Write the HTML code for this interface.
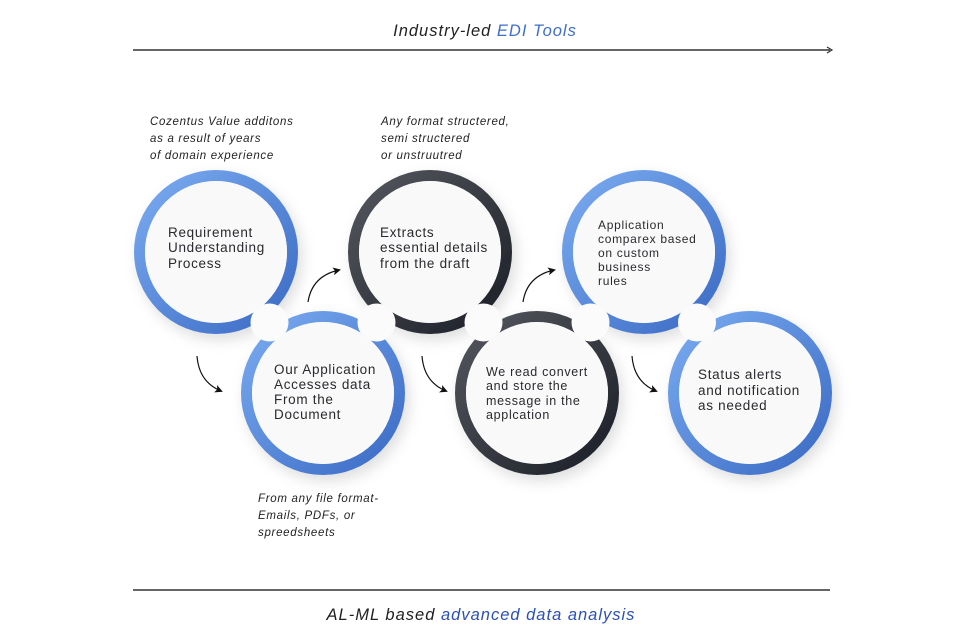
<!DOCTYPE html>
<html><head><meta charset="utf-8"><style>
html,body{margin:0;padding:0;background:#fff;width:966px;height:644px;overflow:hidden}
svg{display:block}
text{font-family:"Liberation Sans",sans-serif}
.c{font-size:13.5px;fill:#2a2a2e;letter-spacing:0.7px}
.n{font-size:11.5px;fill:#222;font-style:italic;letter-spacing:0.7px}
.t{font-size:16.5px;font-style:italic;letter-spacing:1px}
</style></head><body>
<svg width="966" height="644" viewBox="0 0 966 644">
<defs>
<linearGradient id="gb" x1="0" y1="0" x2="1" y2="1">
<stop offset="0" stop-color="#7aabf0"/><stop offset="1" stop-color="#3a6ac4"/></linearGradient>
<linearGradient id="gd" x1="0" y1="0" x2="1" y2="1">
<stop offset="0" stop-color="#55585f"/><stop offset="1" stop-color="#1b1e26"/></linearGradient>
<filter id="sh" x="-30%" y="-30%" width="160%" height="160%"><feDropShadow dx="4" dy="6" stdDeviation="7" flood-color="#000" flood-opacity="0.13"/></filter>
<marker id="ah" markerWidth="8" markerHeight="8" refX="6" refY="4" orient="auto" markerUnits="userSpaceOnUse"><path d="M0,0 L8,4 L0,8 L2,4 Z" fill="#111"/></marker>
</defs>
<text x="485" y="36" text-anchor="middle" class="t"><tspan fill="#222">Industry-led </tspan><tspan fill="#3f6fc9">EDI Tools</tspan></text>
<line x1="133" y1="50" x2="830" y2="50" stroke="#333" stroke-width="1.5"/>
<path d="M827,47 L832,50 L827,53" fill="none" stroke="#333" stroke-width="1.2"/>
<line x1="133" y1="590" x2="830" y2="590" stroke="#333" stroke-width="1.5"/>
<text x="481" y="620" text-anchor="middle" class="t"><tspan fill="#222">AL-ML based </tspan><tspan fill="#2b50b8">advanced data analysis</tspan></text>

<g filter="url(#sh)">
<circle cx="216" cy="252" r="76.5" fill="#f9f9fa" stroke="url(#gb)" stroke-width="11"/>
<circle cx="323" cy="393" r="76.5" fill="#f9f9fa" stroke="url(#gb)" stroke-width="11"/>
<circle cx="430" cy="252" r="76.5" fill="#f9f9fa" stroke="url(#gd)" stroke-width="11"/>
<circle cx="537" cy="393" r="76.5" fill="#f9f9fa" stroke="url(#gd)" stroke-width="11"/>
<circle cx="644" cy="252" r="76.5" fill="#f9f9fa" stroke="url(#gb)" stroke-width="11"/>
<circle cx="750" cy="393" r="76.5" fill="#f9f9fa" stroke="url(#gb)" stroke-width="11"/>
</g>
<g fill="#fbfbfb">
<circle cx="269.5" cy="322.5" r="19"/>
<circle cx="376.5" cy="322.5" r="19"/>
<circle cx="483.5" cy="322.5" r="19"/>
<circle cx="590.5" cy="322.5" r="19"/>
<circle cx="697" cy="322.5" r="19"/>
</g>
<g fill="#f9f9fa">
<circle cx="216" cy="252" r="71"/><circle cx="323" cy="393" r="71"/>
<circle cx="430" cy="252" r="71"/><circle cx="537" cy="393" r="71"/>
<circle cx="644" cy="252" r="71"/><circle cx="750" cy="393" r="71"/>
</g>

<text class="c" x="168" y="237">Requirement</text>
<text class="c" x="168" y="252">Understanding</text>
<text class="c" x="168" y="268">Process</text>
<text class="c" x="274" y="374">Our Application</text>
<text class="c" x="274" y="389">Accesses data</text>
<text class="c" x="274" y="404">From the</text>
<text class="c" x="274" y="419">Document</text>
<text class="c" x="380" y="237">Extracts</text>
<text class="c" x="380" y="252">essential details</text>
<text class="c" x="380" y="268">from the draft</text>
<text class="c" x="486" y="376" style="font-size:12.5px">We read convert</text>
<text class="c" x="486" y="390" style="font-size:12.5px">and store the</text>
<text class="c" x="486" y="405" style="font-size:12.5px">message in the</text>
<text class="c" x="486" y="419" style="font-size:12.5px">applcation</text>
<text class="c" x="598" y="229" style="font-size:12px">Application</text>
<text class="c" x="598" y="243" style="font-size:12px">comparex based</text>
<text class="c" x="598" y="257" style="font-size:12px">on custom</text>
<text class="c" x="598" y="271" style="font-size:12px">business</text>
<text class="c" x="598" y="285" style="font-size:12px">rules</text>
<text class="c" x="698" y="379">Status alerts</text>
<text class="c" x="698" y="395">and notification</text>
<text class="c" x="698" y="410">as needed</text>

<text class="n" x="150" y="125">Cozentus Value additons</text>
<text class="n" x="150" y="142">as a result of years</text>
<text class="n" x="150" y="159">of domain experience</text>
<text class="n" x="381" y="125">Any format structered,</text>
<text class="n" x="381" y="142">semi structered</text>
<text class="n" x="381" y="159">or unstruutred</text>
<text class="n" x="258" y="502">From any file format-</text>
<text class="n" x="258" y="519">Emails, PDFs, or</text>
<text class="n" x="258" y="536">spreedsheets</text>

<g fill="none" stroke="#111" stroke-width="1.2" marker-end="url(#ah)">
<path d="M197,356 Q199,382 221,391"/>
<path d="M422,356 Q424,382 446,391"/>
<path d="M632,356 Q634,382 656,391"/>
<path d="M308,302 Q312,276 339,270"/>
<path d="M523,302 Q527,276 554,270"/>
</g>
</svg>
</body></html>
